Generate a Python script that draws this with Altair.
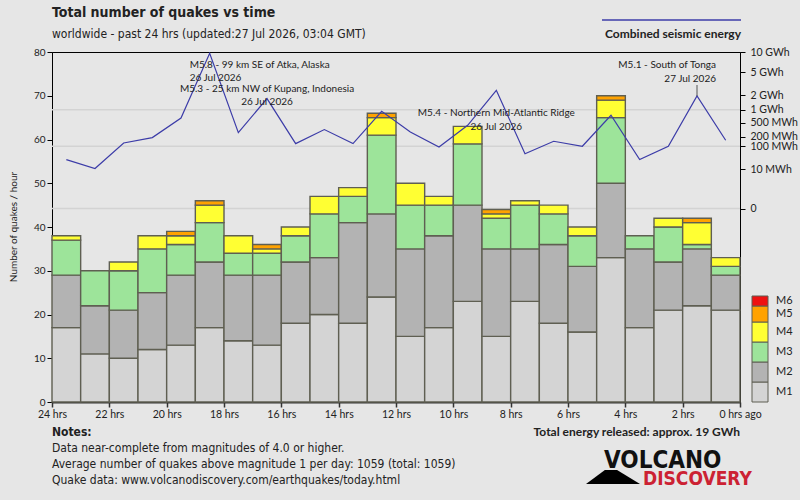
import altair as alt
import pandas as pd

# ---------------- data ----------------
hours_ago = list(range(24, 0, -1))          # bar start (hours ago), left to right
mag_names = ["M1", "M2", "M3", "M4", "M5", "M6"]
m1 = [17, 11, 10, 12, 13, 17, 14, 13, 18, 20, 18, 24, 15, 17, 23, 15, 23, 18, 16, 33, 17, 21, 22, 21]
m2 = [12, 11, 11, 13, 16, 15, 15, 16, 14, 13, 23, 19, 20, 21, 22, 20, 12, 18, 15, 17, 18, 11, 13, 8]
m3 = [8, 8, 9, 10, 7, 9, 5, 5, 6, 10, 6, 18, 10, 7, 14, 7, 10, 7, 7, 15, 3, 8, 1, 2]
m4 = [1, 0, 2, 3, 2, 4, 4, 1, 2, 4, 2, 4, 5, 2, 4, 1, 1, 2, 2, 4, 0, 2, 5, 2]
m5 = [0, 0, 0, 0, 1, 1, 0, 1, 0, 0, 0, 1, 0, 0, 0, 1, 0, 0, 0, 1, 0, 0, 1, 0]
m6 = [0] * 24
energy_mwh = [30, 11, 129, 192, 648, 9590, 269, 1710, 123, 327, 123, 926,
              280, 94, 426, 2460, 53, 147, 100, 751, 30, 100, 1922, 158]
energy_ticks = [0, 10, 100, 200, 500, 1000, 2000, 5000, 10000]
energy_grid = [0, 100, 1000]
count_ticks = list(range(0, 81, 10))
x_ticks = list(range(0, 25))
mag_colors = ["#d4d4d4", "#b3b3b3", "#9de49a", "#ffff33", "#ffa200", "#ee1111"]

annot_events = ["M5.8 - 99 km SE of Atka, Alaska",
                "M5.3 - 25 km NW of Kupang, Indonesia",
                "M5.4 - Northern Mid-Atlantic Ridge",
                "M5.1 - South of Tonga"]
annot_dates = ["26 Jul 2026", "26 Jul 2026", "26 Jul 2026", "27 Jul 2026"]
annot_bar = [5, 7, 15, 22]

title_text = "Total number of quakes vs time"
subtitle_text = "worldwide - past 24 hrs (updated:27 Jul 2026, 03:04 GMT)"
energy_legend_text = "Combined seismic energy"
y_title_text = "Number of quakes / hour"
notes_title = "Notes:"
notes_lines = ["Data near-complete from magnitudes of 4.0 or higher.",
               "Average number of quakes above magnitude 1 per day: 1059 (total: 1059)",
               "Quake data: www.volcanodiscovery.com/earthquakes/today.html"]
total_text = "Total energy released: approx. 19 GWh"
logo_top, logo_bottom = "VOLCANO", "DISCOVERY"

# ---------------- layout ----------------
W, H = 688, 350
OX, OY = 52, 52          # plot origin in the page
LINE_COLOR = "#3c3ca8"
TXT = "#222222"
FONT_A = "Lato"
FONT_B = "DejaVu Sans Condensed"

rows = []
mag_lists = [m1, m2, m3, m4, m5, m6]
for i, h in enumerate(hours_ago):
    for j, name in enumerate(mag_names):
        c = mag_lists[j][i]
        if c > 0:
            rows.append({"start": h, "end": h - 1, "mag": name, "mi": j, "count": c})
bars_df = pd.DataFrame(rows)
energy_df = pd.DataFrame({"center": [h - 0.5 for h in hours_ago], "energy": energy_mwh})

xscale = alt.Scale(domain=[24, 0], nice=False, zero=False)
cscale = alt.Scale(domain=[0, 80], nice=False)
escale = alt.Scale(type="pow", exponent=0.2, domain=[-28730, 10000], nice=False, zero=False)

grid = alt.Chart(pd.DataFrame({"e": energy_grid})).mark_rule(
    color="#d3d3d3", strokeWidth=1.5
).encode(y=alt.Y("e:Q", scale=escale, axis=None))

bars = alt.Chart(bars_df).transform_stack(
    stack="count", groupby=["start"], as_=["y0", "y1"], sort=[alt.SortField("mi", order="ascending")]
).mark_bar(stroke="#5f5f52", strokeWidth=1.4).encode(
    x=alt.X("start:Q", scale=xscale, axis=alt.Axis(
        values=x_ticks, title=None, grid=False, tickSize=5, tickColor="#333",
        tickWidth=1.5, domainColor="#333", domainWidth=2, labelFont=FONT_A,
        labelFontSize=10.5, labelColor=TXT, labelOverlap=False, labelFlush=False,
        labelPadding=2,
        labelExpr="datum.value % 2 == 0 ? (datum.value == 0 ? '0 hrs ago' : datum.value + ' hrs') : ''")),
    x2="end:Q",
    y=alt.Y("y0:Q", scale=cscale, axis=alt.Axis(
        values=count_ticks, title=None, grid=False, tickSize=5, tickColor="black",
        domainColor="black", labelFont=FONT_A, labelFontSize=10, labelColor=TXT,
        labelPadding=2, labelOverlap=False)),
    y2="y1:Q",
    color=alt.Color("mag:N", scale=alt.Scale(domain=mag_names, range=mag_colors), legend=None),
)

line = alt.Chart(energy_df).mark_line(color=LINE_COLOR, strokeWidth=1.2).encode(
    x=alt.X("center:Q", scale=xscale),
    y=alt.Y("energy:Q", scale=escale, axis=alt.Axis(
        orient="right", values=energy_ticks, title=None, grid=False, tickSize=5,
        tickColor="black", domainColor="black", labelFont=FONT_A, labelFontSize=10.5,
        labelColor=TXT, labelPadding=5, labelOverlap=False,
        labelExpr="datum.value == 0 ? '0' : (datum.value >= 1000 ? (datum.value / 1000) + ' GWh' : datum.value + ' MWh')")),
)


def ptext(s, x, y, size, font=FONT_A, weight="normal", color=TXT, align="left",
          baseline="middle", angle=0):
    return alt.Chart(pd.DataFrame({"t": [s]})).mark_text(
        font=font, fontSize=size, fontWeight=weight, color=color, align=align,
        baseline=baseline, angle=angle
    ).encode(text="t:N", x=alt.value(x - OX), y=alt.value(y - OY))


layers = [grid, bars, line]

# annotations: (align, dx, y of line 1, y of line 2)
annot_layout = [("left", -20, 65, 78), ("center", 0, 88.5, 102),
                ("center", 0, 113, 127), ("right", 19, 64.5, 78.5)]
for k, ev, dt, (al, dx, y1, y2) in zip(annot_bar, annot_events, annot_dates, annot_layout):
    adf = pd.DataFrame({"center": [hours_ago[k] - 0.5], "ev": [ev], "dt": [dt]})
    for field, yy in (("ev", y1), ("dt", y2)):
        layers.append(alt.Chart(adf).mark_text(
            font=FONT_A, fontSize=10, color=TXT, align=al, baseline="middle", dx=dx
        ).encode(x=alt.X("center:Q", scale=xscale), y=alt.value(yy - OY), text=f"{field}:N"))
# connector for the last annotation
cdf = pd.DataFrame({"center": [hours_ago[annot_bar[3]] - 0.5]})
layers.append(alt.Chart(cdf).mark_rule(color="#555555", strokeWidth=1).encode(
    x=alt.X("center:Q", scale=xscale), y=alt.value(85 - OY), y2=alt.value(96 - OY)))

# title block
layers.append(ptext(title_text, 52, 13, 14, font=FONT_B, weight="bold"))
layers.append(ptext(subtitle_text, 52, 34, 12, font=FONT_B))
# energy legend
layers.append(alt.Chart(pd.DataFrame({"t": [energy_legend_text]})).mark_rule(
    color=LINE_COLOR, strokeWidth=1.3).encode(
    x=alt.value(602 - OX), x2=alt.value(741 - OX), y=alt.value(20 - OY)))
layers.append(ptext(energy_legend_text, 741, 34, 12, weight="bold", align="right"))
# y title
layers.append(ptext(y_title_text, 14, 227, 10, angle=270, align="center"))

# magnitude legend
leg_bounds = [(382, 402), (362, 382), (342, 362), (322, 342), (306, 322), (296, 306)]
for name, col, (ya, yb) in zip(mag_names, mag_colors, leg_bounds):
    layers.append(alt.Chart(pd.DataFrame({"t": [name]})).mark_rect(
        color=col, stroke="#5f5f52", strokeWidth=1).encode(
        x=alt.value(752 - OX), x2=alt.value(768 - OX), y=alt.value(ya - OY), y2=alt.value(yb - OY)))
    layers.append(ptext(name, 776, (ya + yb) / 2, 11))

# notes
layers.append(ptext(notes_title, 52, 432, 12, font=FONT_B, weight="bold"))
for i, s in enumerate(notes_lines):
    layers.append(ptext(s, 52, 448 + 16 * i, 12, font=FONT_B))
layers.append(ptext(total_text, 740, 432, 12, weight="bold", align="right"))

# logo
layers.append(alt.Chart(pd.DataFrame({"t": ["logo"]})).mark_point(
    shape="M-1,0.26L-0.3,-0.26L0.15,-0.26L1,0.26Z", size=2916, filled=True,
    color="black", opacity=1).encode(x=alt.value(613 - OX), y=alt.value(477 - OY)))
layers.append(ptext(logo_top, 604, 468, 24, font=FONT_B, weight="bold", color="#111111",
                    baseline="alphabetic"))
layers.append(ptext(logo_bottom, 643, 485, 19, font=FONT_B, weight="bold", color="#cc2233",
                    baseline="alphabetic"))

chart = alt.layer(*layers).resolve_scale(y="independent").properties(
    width=W, height=H,
    autosize=alt.AutoSizeParams(type="none"),
    padding={"left": OX, "top": OY, "right": 800 - OX - W, "bottom": 500 - OY - H},
).configure(background="#e6e6e6").configure_view(stroke="black", strokeWidth=1)

chart.save("out.html", embed_options={"renderer": "svg", "actions": False})
